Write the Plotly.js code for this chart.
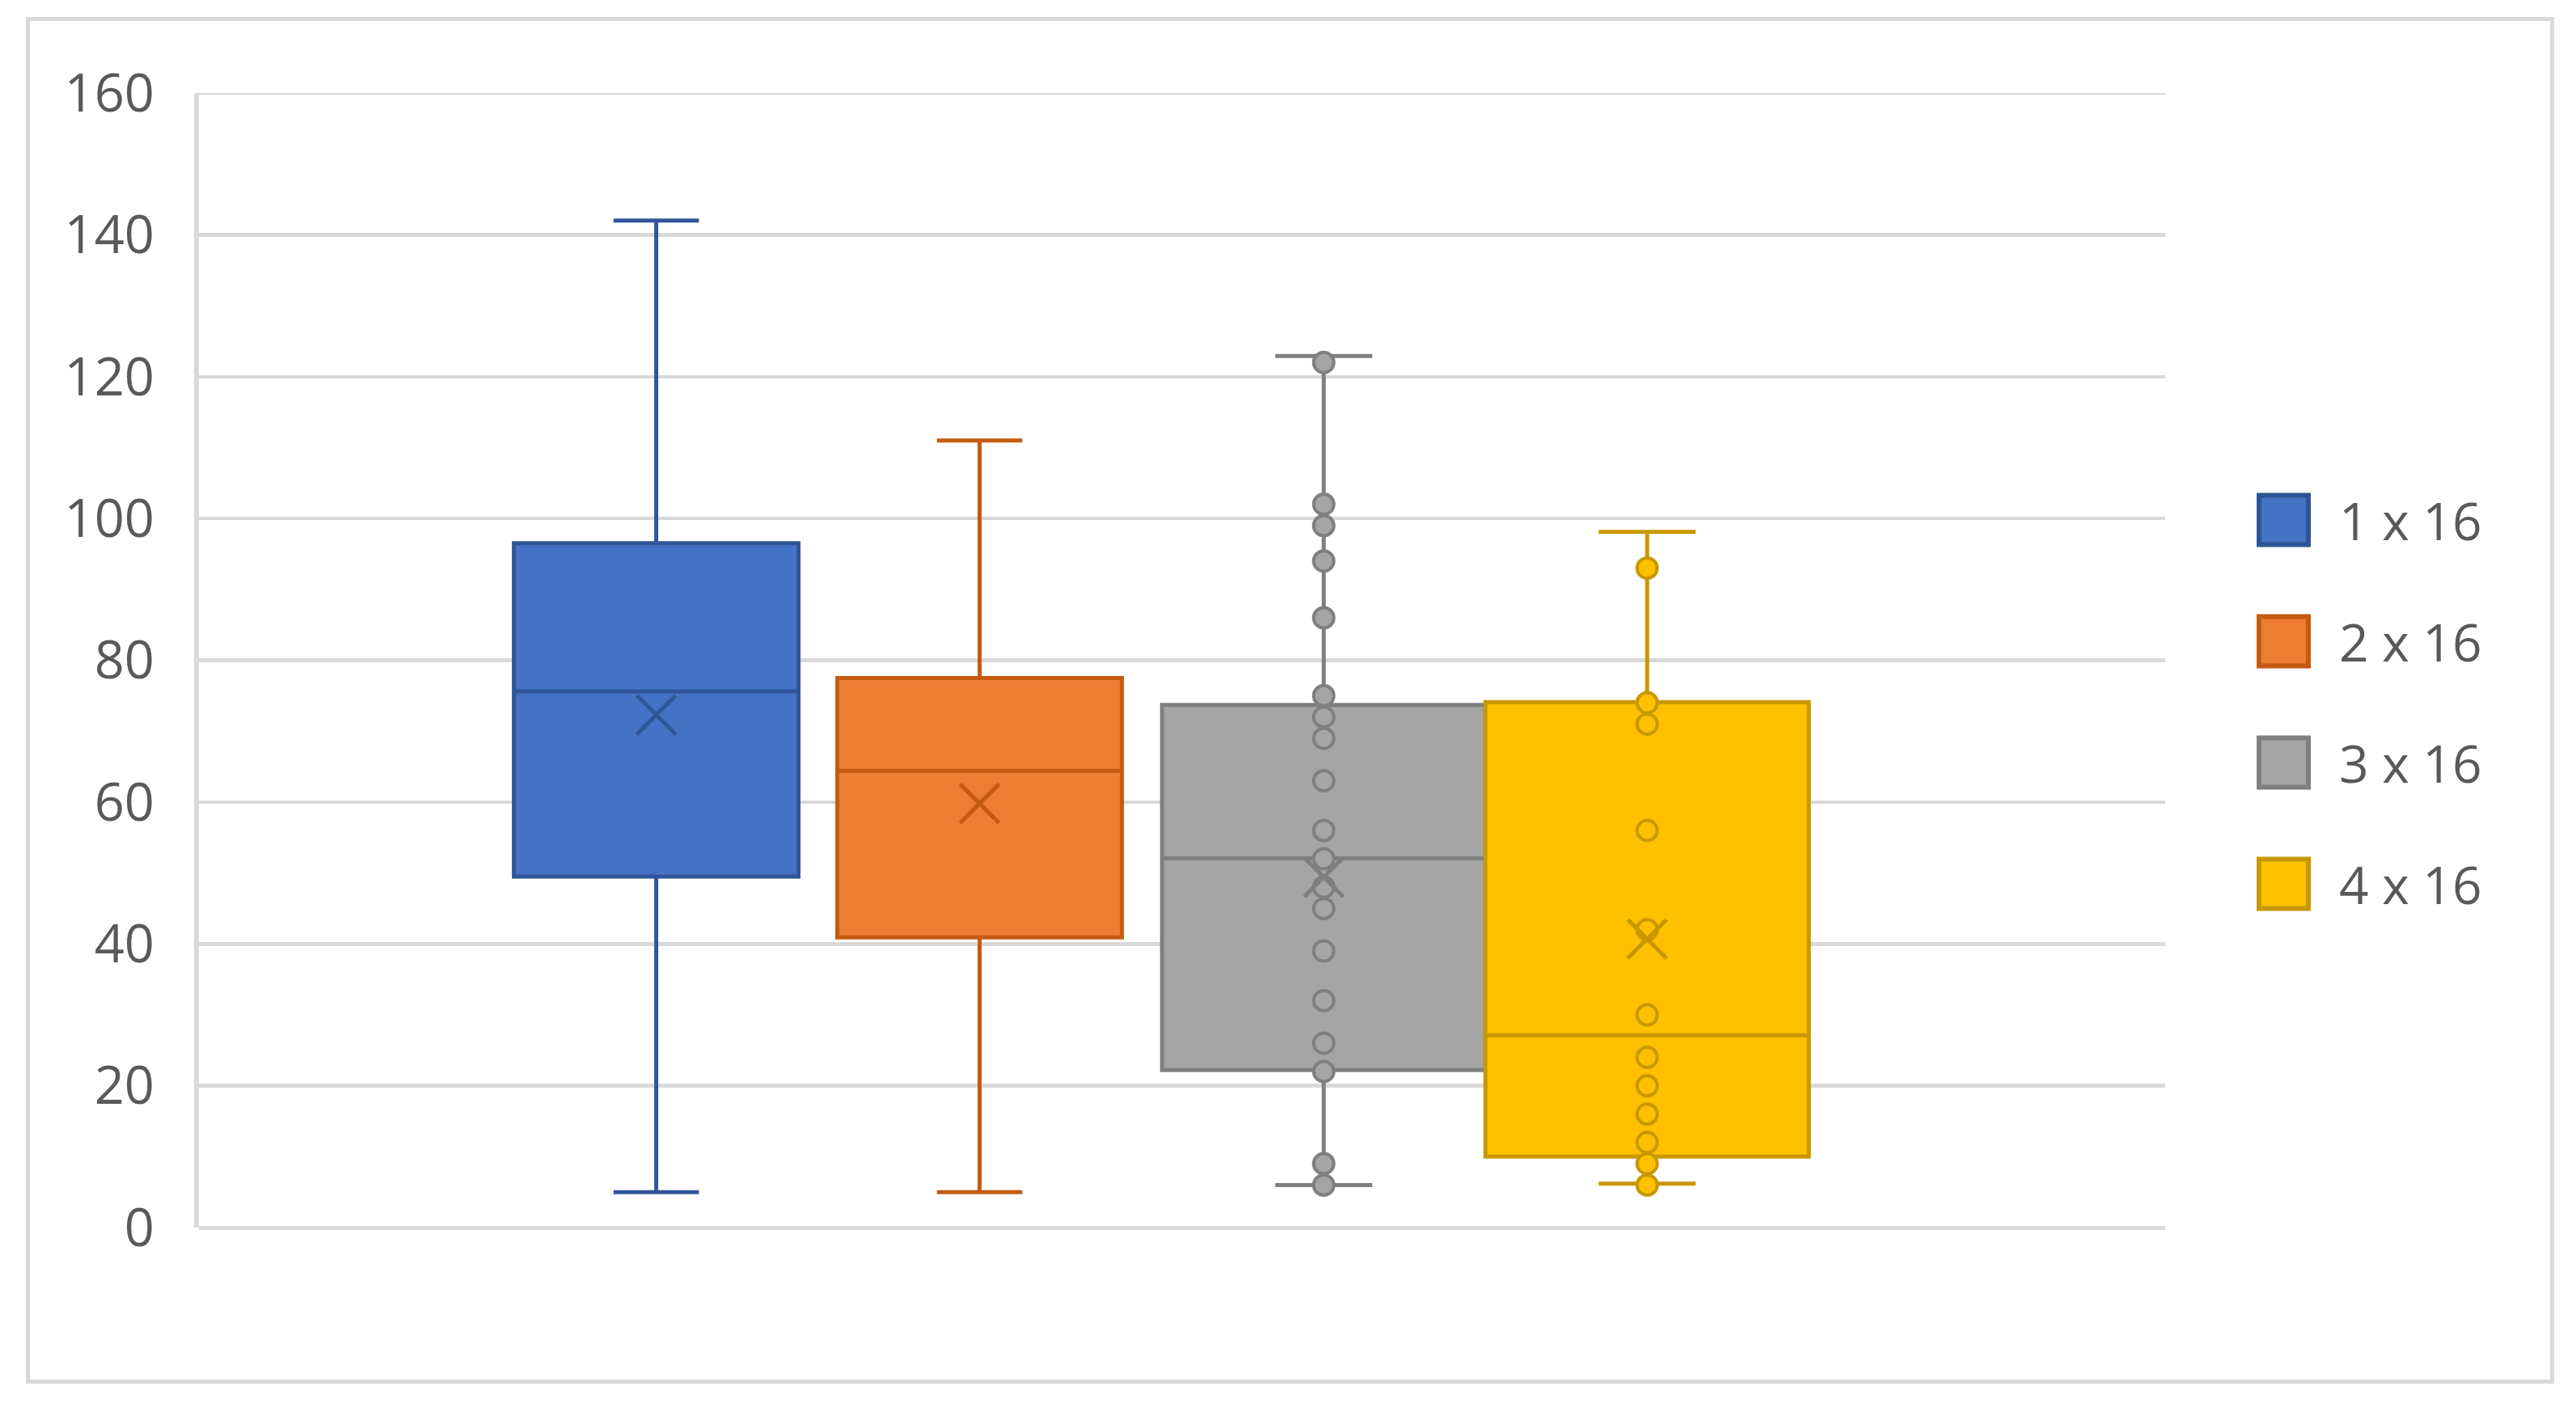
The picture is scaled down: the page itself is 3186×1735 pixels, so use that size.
<!DOCTYPE html>
<html>
<head>
<meta charset="utf-8">
<script src="https://cdn.plot.ly/plotly-3.0.1.min.js"></script>
<style>
html, body { margin: 0; padding: 0; background: #ffffff; }
#chart { position: absolute; left: 0; top: 0; width: 3186px; height: 1735px; }
#frame { position: absolute; left: 32px; top: 21px; width: 3127px; height: 1690px;
         box-sizing: border-box; border: 5px solid #d9d9d9; pointer-events: none; }
</style>
</head>
<body>
<div id="chart"></div>
<div id="frame"></div>
<script>
// ---------------- data ----------------
const seriesNames   = ['1 x 16', '2 x 16', '3 x 16', '4 x 16'];
const lowerWhisker  = [5.0, 5.0, 6.0, 6.2];
const q1Values      = [49.5, 40.9, 22.2, 10.0];
const medianValues  = [75.6, 64.4, 52.1, 27.1];
const q3Values      = [96.5, 77.5, 73.7, 74.1];
const upperWhisker  = [142.0, 111.0, 122.9, 98.1];
const meanValues    = [72.3, 59.8, 49.4, 40.7];
const pointsSeries1 = [];
const pointsSeries2 = [];
const pointsSeries3 = [122, 102, 99, 94, 86, 75, 72, 69, 63, 56, 52, 48, 45, 39, 32, 26, 22, 9, 6];
const pointsSeries4 = [93, 74, 71, 56, 42, 30, 24, 20, 16, 12, 9, 6];
const yTickValues   = [0, 20, 40, 60, 80, 100, 120, 140, 160];
const yTickLabels   = ['0', '20', '40', '60', '80', '100', '120', '140', '160'];

// ---------------- styles / layout constants ----------------
const fillColors = ['#4472C4', '#ED7D31', '#A5A5A5', '#FFC000'];
const lineColors = ['#2F5597', '#C55A11', '#7F7F7F', '#C99700'];
const boxLayout = {
  positions: [1.414, 2.414, 3.478, 4.478],
  widths: [0.88, 0.88, 1.0, 1.0],
  xRange: [0, 6.08]
};
const FONT = '"Open Sans", "Noto Sans", sans-serif';
const TEXT_COLOR = '#595959';
const GRID = '#d9d9d9';
const W = 3186, H = 1735;
const plotBox = { left: 246, right: 2678, top: 115, bottom: 1518 };

const allPoints = [pointsSeries1, pointsSeries2, pointsSeries3, pointsSeries4];

const traces = [];
seriesNames.forEach((name, i) => {
  traces.push({
    type: 'box',
    name: name,
    x: [boxLayout.positions[i]],
    q1: [q1Values[i]],
    median: [medianValues[i]],
    q3: [q3Values[i]],
    lowerfence: [lowerWhisker[i]],
    upperfence: [upperWhisker[i]],
    width: boxLayout.widths[i],
    whiskerwidth: 0.3,
    boxpoints: false,
    fillcolor: fillColors[i],
    line: { color: lineColors[i], width: 5 },
    showlegend: false,
    hoverinfo: 'skip'
  });
});
seriesNames.forEach((name, i) => {
  const pts = allPoints[i];
  if (pts.length) {
    traces.push({
      type: 'scatter', mode: 'markers', name: name + ' points',
      x: pts.map(() => boxLayout.positions[i]), y: pts,
      marker: { symbol: 'circle', size: 25, color: fillColors[i],
                line: { color: lineColors[i], width: 4 } },
      showlegend: false, hoverinfo: 'y'
    });
  }
});
seriesNames.forEach((name, i) => {
  traces.push({
    type: 'scatter', mode: 'markers', name: name + ' mean',
    x: [boxLayout.positions[i]], y: [meanValues[i]],
    marker: { symbol: 'x-thin-open', size: 48, color: lineColors[i],
              line: { color: lineColors[i], width: 5 } },
    showlegend: false, hoverinfo: 'y'
  });
});

// custom legend (big squares like the reference)
const pw = plotBox.right - plotBox.left, ph = plotBox.bottom - plotBox.top;
const px2x = p => (p - plotBox.left) / pw;
const px2y = p => (plotBox.bottom - p) / ph;
const legendCfg = { squareLeft: 2794, squareSize: 61, firstCenter: 643, step: 150, textLeft: 2891 };
const shapes = [];
const annotations = [];

// top gridline (Plotly drops a gridline lying exactly on the range edge)
shapes.push({
  type: 'line', xref: 'paper', yref: 'y', layer: 'below',
  x0: 0, x1: 1, y0: yTickValues[yTickValues.length - 1], y1: yTickValues[yTickValues.length - 1],
  line: { color: GRID, width: 4.5 }
});

seriesNames.forEach((name, i) => {
  const cy = legendCfg.firstCenter + i * legendCfg.step;
  shapes.push({
    type: 'rect', xref: 'paper', yref: 'paper',
    x0: px2x(legendCfg.squareLeft), x1: px2x(legendCfg.squareLeft + legendCfg.squareSize),
    y0: px2y(cy + legendCfg.squareSize / 2), y1: px2y(cy - legendCfg.squareSize / 2),
    fillcolor: fillColors[i], line: { color: lineColors[i], width: 6 }
  });
  annotations.push({
    xref: 'paper', yref: 'paper', x: px2x(legendCfg.textLeft), y: px2y(cy),
    xanchor: 'left', yanchor: 'middle', showarrow: false, text: name,
    font: { family: FONT, size: 64, color: TEXT_COLOR }
  });
});

const layout = {
  width: W, height: H,
  margin: { l: plotBox.left, r: W - plotBox.right, t: plotBox.top, b: H - plotBox.bottom, pad: 0 },
  paper_bgcolor: '#ffffff', plot_bgcolor: '#ffffff',
  showlegend: false,
  boxmode: 'overlay',
  xaxis: { range: boxLayout.xRange, visible: false, fixedrange: true },
  yaxis: {
    range: [0, 160], tickmode: 'array', tickvals: yTickValues, ticktext: yTickLabels,
    showgrid: true, gridcolor: GRID, gridwidth: 4.5,
    zeroline: true, zerolinecolor: GRID, zerolinewidth: 5,
    showline: true, linecolor: GRID, linewidth: 6,
    ticks: '', ticklabelstandoff: 36,
    tickfont: { family: FONT, size: 65, color: TEXT_COLOR },
    fixedrange: true
  },
  shapes: shapes,
  annotations: annotations
};

Plotly.newPlot('chart', traces, layout, { displayModeBar: false, staticPlot: true });
</script>
</body>
</html>
